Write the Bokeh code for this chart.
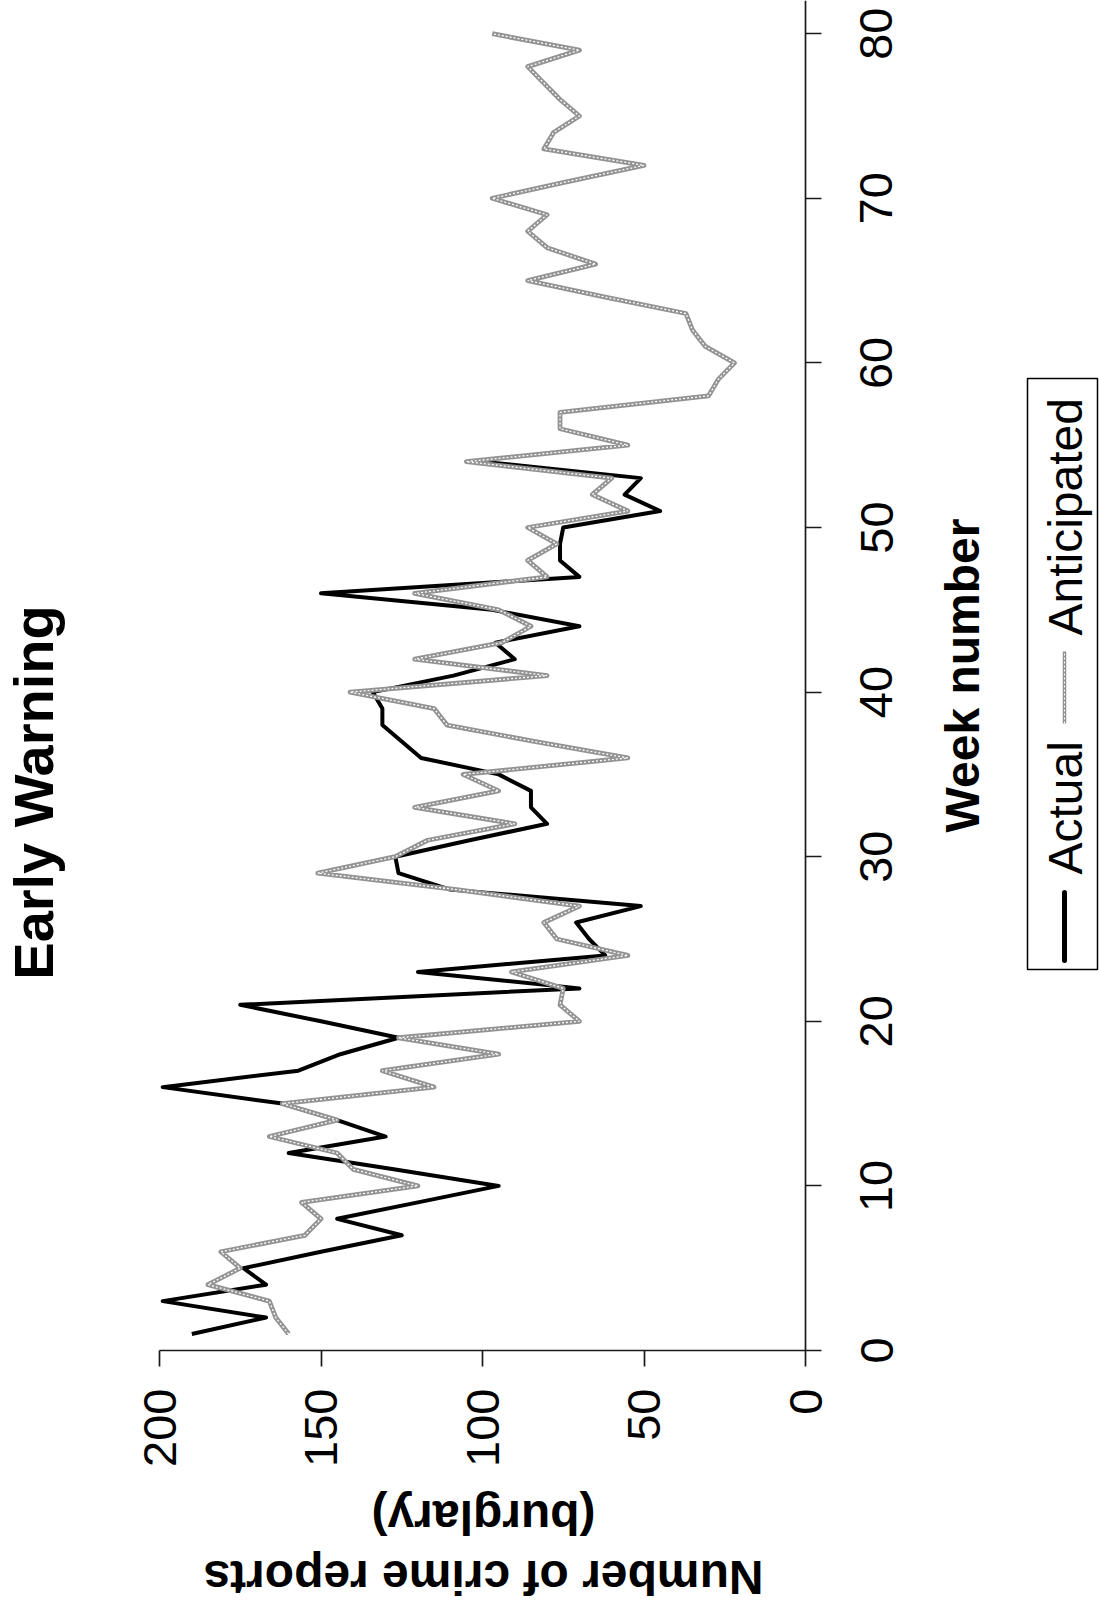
from math import pi
from bokeh.plotting import figure
from bokeh.models import (Range1d, FixedTicker, Label, LabelSet, ColumnDataSource,
                          Arrow, PolyAnnotation, LinearAxis)
from bokeh.embed import file_html
from bokeh.resources import INLINE
from bokeh.core.properties import value

# ---------------- data ----------------
TITLE = "Early Warning"
X_LABEL = "Week number"
Y_LABEL_1 = "Number of crime reports"
Y_LABEL_2 = "(burglary)"
SERIES_NAMES = ["Actual", "Anticipated"]

WEEK_TICKS = [0, 10, 20, 30, 40, 50, 60, 70, 80]
REPORT_TICKS = [0, 50, 100, 150, 200]

ACTUAL_WEEKS = list(range(1, 55))
ACTUAL = [190, 167, 199, 167, 174, 150, 125, 145, 120, 95,
          127, 160, 130, 145, 162, 199, 157, 144, 126, 150,
          175, 70, 120, 62, 67, 71, 51, 110, 126, 127,
          104, 80, 85, 85, 95, 119, 125, 131, 131, 134,
          109, 90, 96, 70, 97, 150, 70, 76, 76, 75,
          45, 56, 51, 100]

ANTICIPATED_WEEKS = list(range(1, 81))
ANTICIPATED = [160, 164, 166, 185, 175, 181, 155, 150, 156, 120,
               140, 145, 166, 145, 162, 115, 131, 95, 126, 70,
               76, 75, 91, 55, 77, 81, 70, 108, 151, 127,
               117, 90, 121, 95, 106, 55, 84, 111, 115, 141,
               80, 121, 94, 85, 95, 121, 80, 86, 77, 86,
               55, 66, 60, 105, 55, 76, 76, 30, 27, 22,
               31, 35, 37, 62, 86, 65, 80, 86, 80, 97,
               74, 50, 81, 78, 70, 76, 81, 86, 70, 97]

# ---------------- layout ----------------
W, H = 1099, 1606
X_AT_ZERO = 805.0        # canvas x of 0 reports
PX_PER_REPORT = 3.23
Y_AT_ZERO = 1350.0       # canvas y of week 0
PX_PER_WEEK = 16.46
FONT = "Liberation Sans"
GRAY = "#939393"
AXIS_COLOR = "#1a1a1a"


def dx(px):
    """canvas x -> report value"""
    return (X_AT_ZERO - px) / PX_PER_REPORT


def dy(py):
    """canvas y -> week value"""
    return (Y_AT_ZERO - py) / PX_PER_WEEK


p = figure(width=W, height=H,
           x_range=Range1d(dx(0), dx(W)), y_range=Range1d(dy(H), dy(0)),
           x_axis_location=None, y_axis_location=None,
           min_border=0, min_border_left=0, min_border_right=0,
           min_border_top=0, min_border_bottom=0,
           toolbar_location=None, output_backend="svg", title=None)
p.outline_line_color = None
p.grid.visible = False
p.background_fill_color = "white"
p.border_fill_color = "white"

# bottom axis (number of reports), pinned at week 0
xa = LinearAxis(fixed_location=0, bounds=(0, 200))
xa.ticker = FixedTicker(ticks=REPORT_TICKS)
xa.major_label_orientation = pi / 2
xa.major_label_text_font = FONT
xa.major_label_text_font_size = "47px"
xa.major_label_text_color = "black"
xa.major_label_standoff = 22
xa.major_tick_out = 16
xa.major_tick_in = 0
xa.minor_tick_out = 0
xa.minor_tick_in = 0
xa.axis_line_width = 1.7
xa.axis_line_color = AXIS_COLOR
xa.major_tick_line_width = 1.7
xa.major_tick_line_color = AXIS_COLOR
p.add_layout(xa, "below")

# right axis (week number), pinned at 0 reports; labels drawn rotated below
ya = LinearAxis(fixed_location=0, bounds=(0, dy(0)))
ya.ticker = FixedTicker(ticks=WEEK_TICKS)
ya.major_label_overrides = {t: "" for t in WEEK_TICKS}
ya.major_tick_out = 16
ya.major_tick_in = 0
ya.minor_tick_out = 0
ya.minor_tick_in = 0
ya.axis_line_width = 1.7
ya.axis_line_color = AXIS_COLOR
ya.major_tick_line_width = 1.7
ya.major_tick_line_color = AXIS_COLOR
p.add_layout(ya, "right")

week_lab_src = ColumnDataSource(dict(
    x=[dx(876)] * len(WEEK_TICKS), y=WEEK_TICKS,
    text=[str(t) for t in WEEK_TICKS]))
p.add_layout(LabelSet(x="x", y="y", text="text", source=week_lab_src,
                      angle=pi / 2, text_align="center", text_baseline="middle",
                      text_font=value(FONT), text_font_size="47px",
                      text_color="black"))

# ---------------- series ----------------
p.line(ACTUAL, ACTUAL_WEEKS, line_color="black", line_width=4,
       line_join="round")
p.line(ANTICIPATED, ANTICIPATED_WEEKS, line_color=GRAY, line_width=4.8,
       line_join="round")
p.line(ANTICIPATED, ANTICIPATED_WEEKS, line_color="white", line_width=1.3,
       line_dash="2 2")

# ---------------- texts ----------------
p.add_layout(Label(x=dx(33), y=dy(792), text=TITLE, angle=pi / 2,
                   text_align="center", text_baseline="middle",
                   text_font=FONT, text_font_style="bold",
                   text_font_size="56px", text_color="black"))
p.add_layout(Label(x=dx(962), y=dy(675), text=X_LABEL, angle=pi / 2,
                   text_align="center", text_baseline="middle",
                   text_font=FONT, text_font_style="bold",
                   text_font_size="48px", text_color="black"))
p.add_layout(Label(x=dx(483), y=dy(1517), text=Y_LABEL_2, angle=pi,
                   text_align="center", text_baseline="middle",
                   text_font=FONT, text_font_style="bold",
                   text_font_size="48px", text_color="black"))
p.add_layout(Label(x=dx(483), y=dy(1577), text=Y_LABEL_1, angle=pi,
                   text_align="center", text_baseline="middle",
                   text_font=FONT, text_font_style="bold",
                   text_font_size="48px", text_color="black"))

# ---------------- legend (rotated) ----------------
LX0, LX1, LY0, LY1 = 1027, 1097, 378, 969
p.add_layout(PolyAnnotation(xs=[dx(LX0), dx(LX1), dx(LX1), dx(LX0)],
                            ys=[dy(LY0), dy(LY0), dy(LY1), dy(LY1)],
                            fill_color=None, fill_alpha=0,
                            line_color="black", line_alpha=1.0,
                            line_width=1.5))
SAMPLE_X = 1064
TEXT_X = 1065
p.add_layout(Arrow(end=None, x_start=dx(SAMPLE_X), y_start=dy(960),
                   x_end=dx(SAMPLE_X), y_end=dy(892),
                   line_color="black", line_width=5, line_cap="round"))
p.add_layout(Label(x=dx(TEXT_X), y=dy(874), text=SERIES_NAMES[0], angle=pi / 2,
                   text_align="left", text_baseline="middle",
                   text_font=FONT, text_font_size="48px",
                   text_color="black"))
p.add_layout(Arrow(end=None, x_start=dx(SAMPLE_X), y_start=dy(723),
                   x_end=dx(SAMPLE_X), y_end=dy(651),
                   line_color=GRAY, line_width=3.5))
p.add_layout(Arrow(end=None, x_start=dx(SAMPLE_X), y_start=dy(723),
                   x_end=dx(SAMPLE_X), y_end=dy(651),
                   line_color="white", line_width=1.0, line_dash="2 2"))
p.add_layout(Label(x=dx(TEXT_X), y=dy(635), text=SERIES_NAMES[1], angle=pi / 2,
                   text_align="left", text_baseline="middle",
                   text_font=FONT, text_font_size="48px",
                   text_color="black"))

open("out.html", "w").write(file_html(p, INLINE))
